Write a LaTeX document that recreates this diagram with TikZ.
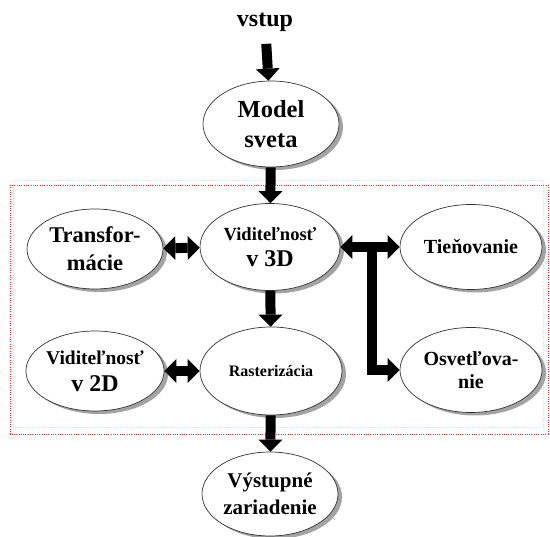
\documentclass[tikz,border=0pt]{standalone}
\usepackage{fontspec}
\setmainfont{Liberation Serif}
\usetikzlibrary{arrows.meta,shapes.geometric,shadows}
\begin{document}
\begin{tikzpicture}[x=1pt,y=1pt,
  blob/.style={ellipse, draw=black!80, line width=0.7pt, fill=white, inner sep=0pt, align=center,
    font=\bfseries, drop shadow={shadow xshift=4pt, shadow yshift=-3pt, fill=black!40, opacity=0.9}},
  bigarrow/.style={line width=10pt, draw=black, -{Triangle[width=24pt,length=12pt,line width=0pt]}},
  bigdouble/.style={line width=10pt, draw=black, {Triangle[width=24pt,length=12pt,line width=0pt]}-{Triangle[width=24pt,length=12pt,line width=0pt]}},
  fs/.style 2 args={font=\bfseries\fontsize{#1}{#2}\selectfont}
]
\useasboundingbox (0,0) rectangle (550,537);
% frames
\draw[cyan!25, line width=0.8pt, dash pattern=on 1pt off 1.2pt] (13,357) rectangle (543,110);
\draw[red!85, line width=0.9pt, dash pattern=on 1pt off 1.3pt] (10,352) rectangle (548,103);
% nodes
\node[fs={24}{28}] (vstup) at (265,515) {vstup};
\node[blob, minimum width=136pt, minimum height=86pt, fs={24.5}{30}] (model) at (271,413) {Model\\sveta};
\node[blob, minimum width=140pt, minimum height=87pt, fs={24}{26}] (vid3d) at (270,290)
  {{\fontsize{18.5}{26}\selectfont Viditeľnosť}\\v 3D};
\node[blob, minimum width=136pt, minimum height=80pt, fs={22.5}{28}] (transf) at (95,288) {Transfor-\\mácie};
\node[blob, minimum width=142pt, minimum height=85pt, fs={20}{24}] (tien) at (471,290) {Tieňovanie};
\node[blob, minimum width=136pt, minimum height=80pt, fs={24}{27}] (vid2d) at (95,166)
  {{\fontsize{19.5}{27}\selectfont Viditeľnosť}\\v 2D};
\node[blob, minimum width=142pt, minimum height=88pt, fs={16}{20}] (raster) at (271,166) {Rasterizácia};
\node[blob, minimum width=142pt, minimum height=85pt, fs={20}{23}] (osv) at (471,167) {Osvetľova-\\nie};
\node[blob, minimum width=136pt, minimum height=84pt, fs={21}{27}] (vyst) at (270,43) {Výstupné\\zariadenie};
% connectors
\draw[bigarrow, shorten <=9pt] (vstup) -- (model);
\draw[bigarrow] (model) -- (vid3d);
\draw[bigarrow] (vid3d) -- (raster);
\draw[bigarrow] (raster) -- (vyst);
\draw[bigdouble] (transf) -- (vid3d);
\draw[bigdouble] (vid2d) -- (raster);
\draw[bigdouble] (vid3d) -- (tien);
\coordinate (br) at (372,290);
\draw[bigarrow, line join=miter] (br) |- (osv);
\end{tikzpicture}
\end{document}
